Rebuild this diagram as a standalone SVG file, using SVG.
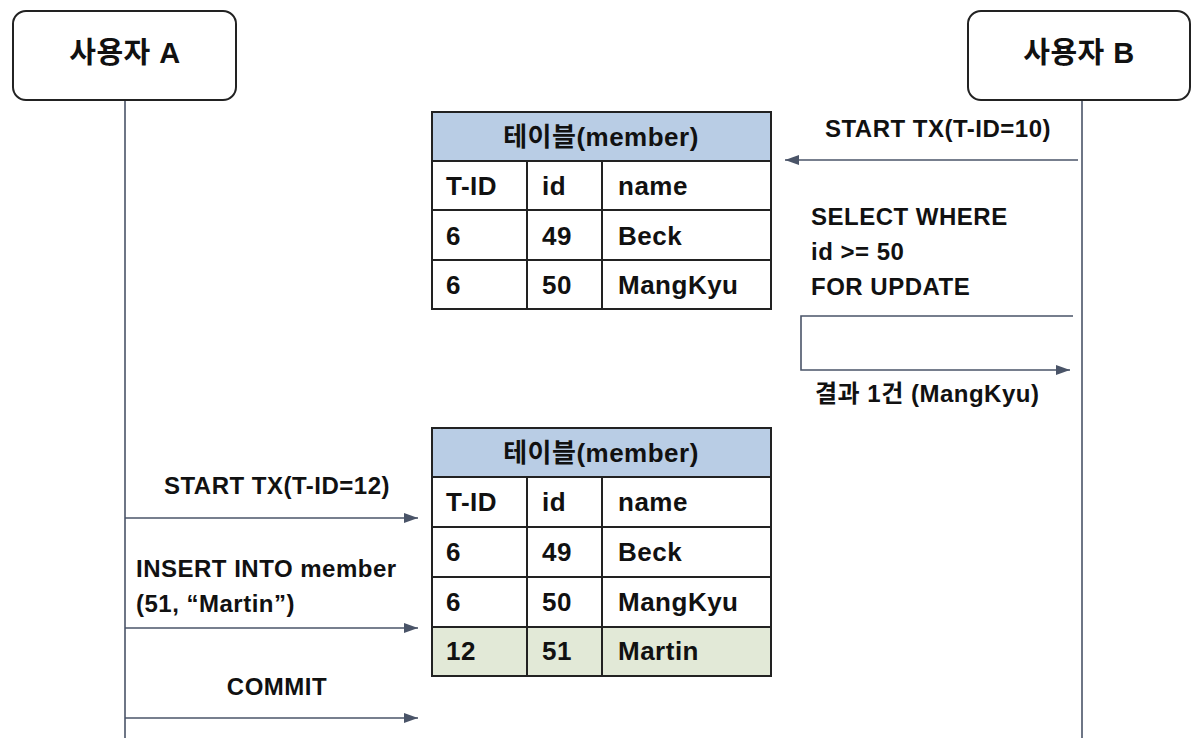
<svg xmlns="http://www.w3.org/2000/svg" width="1200" height="750" viewBox="0 0 1200 750">
<style>
text{font-family:"Liberation Sans","Noto Sans CJK KR",Arial,sans-serif;font-weight:bold;fill:#111;letter-spacing:0.5px}
.actor{fill:#fff;stroke:#222;stroke-width:2}
.aname{font-size:29px;text-anchor:middle}
.life{stroke:#4a5468;stroke-width:1.6;fill:none}
.msg{stroke:#4a5468;stroke-width:1.6;fill:none}
.lbl{font-size:24px}
.c{text-anchor:middle}
.cell{fill:#fff;stroke:#222;stroke-width:2}
.hdr{fill:#b9cde5;stroke:#222;stroke-width:2}
.new{fill:#e2e9d7;stroke:#222;stroke-width:2}
.tt{font-size:26px}
</style>
<defs>
<marker id="ah" viewBox="0 0 14 10" refX="14" refY="5" markerWidth="14" markerHeight="10" markerUnits="userSpaceOnUse" orient="auto">
<path d="M0,0 L14,5 L0,10 Z" fill="#4a5468"/>
</marker>
</defs>
<g id="lifelines">
<line class="life" x1="125" y1="100" x2="125" y2="738"/>
<line class="life" x1="1082" y1="100" x2="1082" y2="738"/>
</g>
<g id="actorA">
<rect class="actor" x="13" y="11" width="223" height="89" rx="13"/>
<text class="aname" x="125" y="63">사용자 A</text>
</g>
<g id="actorB">
<rect class="actor" x="968" y="11" width="222" height="89" rx="13"/>
<text class="aname" x="1079" y="63">사용자 B</text>
</g>
<g id="table1">
<rect class="hdr" x="432" y="112" width="339" height="49"/>
<text class="tt c" x="601" y="146">테이블(member)</text>
<rect class="cell" x="432" y="161" width="95" height="49"/>
<rect class="cell" x="527" y="161" width="75" height="49"/>
<rect class="cell" x="602" y="161" width="169" height="49"/>
<rect class="cell" x="432" y="210" width="95" height="50"/>
<rect class="cell" x="527" y="210" width="75" height="50"/>
<rect class="cell" x="602" y="210" width="169" height="50"/>
<rect class="cell" x="432" y="260" width="95" height="49"/>
<rect class="cell" x="527" y="260" width="75" height="49"/>
<rect class="cell" x="602" y="260" width="169" height="49"/>
<text class="tt" x="446" y="195">T-ID</text>
<text class="tt" x="542" y="195">id</text>
<text class="tt" x="618" y="195">name</text>
<text class="tt" x="446" y="245">6</text>
<text class="tt" x="542" y="245">49</text>
<text class="tt" x="618" y="245">Beck</text>
<text class="tt" x="446" y="294">6</text>
<text class="tt" x="542" y="294">50</text>
<text class="tt" x="618" y="294">MangKyu</text>
</g>
<g id="table2">
<rect class="hdr" x="432" y="428" width="339" height="49"/>
<text class="tt c" x="601" y="462">테이블(member)</text>
<rect class="cell" x="432" y="477" width="95" height="50"/>
<rect class="cell" x="527" y="477" width="75" height="50"/>
<rect class="cell" x="602" y="477" width="169" height="50"/>
<rect class="cell" x="432" y="527" width="95" height="50"/>
<rect class="cell" x="527" y="527" width="75" height="50"/>
<rect class="cell" x="602" y="527" width="169" height="50"/>
<rect class="cell" x="432" y="577" width="95" height="50"/>
<rect class="cell" x="527" y="577" width="75" height="50"/>
<rect class="cell" x="602" y="577" width="169" height="50"/>
<rect class="new" x="432" y="627" width="95" height="49"/>
<rect class="new" x="527" y="627" width="75" height="49"/>
<rect class="new" x="602" y="627" width="169" height="49"/>
<text class="tt" x="446" y="511">T-ID</text>
<text class="tt" x="542" y="511">id</text>
<text class="tt" x="618" y="511">name</text>
<text class="tt" x="446" y="561">6</text>
<text class="tt" x="542" y="561">49</text>
<text class="tt" x="618" y="561">Beck</text>
<text class="tt" x="446" y="611">6</text>
<text class="tt" x="542" y="611">50</text>
<text class="tt" x="618" y="611">MangKyu</text>
<text class="tt" x="446" y="660">12</text>
<text class="tt" x="542" y="660">51</text>
<text class="tt" x="618" y="660">Martin</text>
</g>
<g id="connectors">
<line class="msg" x1="1078" y1="160" x2="785" y2="160" marker-end="url(#ah)"/>
<polyline class="msg" points="1073,316 801,316 801,370 1070,370" marker-end="url(#ah)"/>
<line class="msg" x1="125" y1="518" x2="418" y2="518" marker-end="url(#ah)"/>
<line class="msg" x1="125" y1="628" x2="418" y2="628" marker-end="url(#ah)"/>
<line class="msg" x1="125" y1="718" x2="418" y2="718" marker-end="url(#ah)"/>
</g>
<g id="labels">
<text class="lbl c" x="938" y="137">START TX(T-ID=10)</text>
<text class="lbl" x="811" y="225">SELECT WHERE</text>
<text class="lbl" x="811" y="260">id &gt;= 50</text>
<text class="lbl" x="811" y="295">FOR UPDATE</text>
<text class="lbl" x="815" y="402">결과 1건 (MangKyu)</text>
<text class="lbl c" x="277" y="494">START TX(T-ID=12)</text>
<text class="lbl" x="136" y="577">INSERT INTO member</text>
<text class="lbl" x="136" y="612">(51, “Martin”)</text>
<text class="lbl c" x="277" y="695">COMMIT</text>
</g>
</svg>
